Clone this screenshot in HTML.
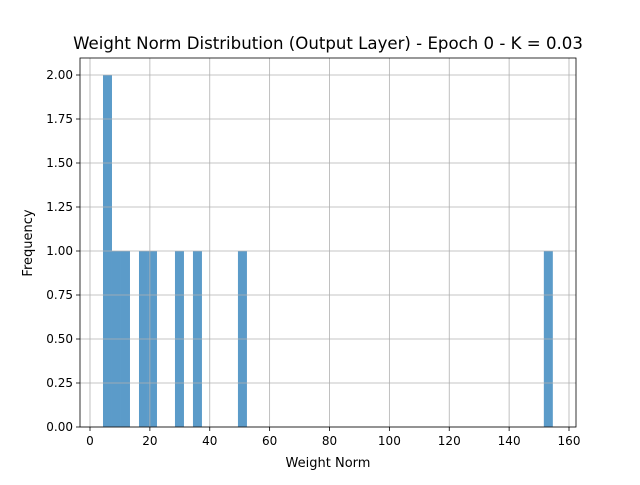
<!DOCTYPE html>
<html><head><meta charset="utf-8"><style>
body{margin:0;background:#fff;}
svg text{font-family:"DejaVu Sans","Liberation Sans",sans-serif;}
</style></head><body>
<svg id="chart" width="640" height="480" xmlns="http://www.w3.org/2000/svg">
<rect width="640" height="480" fill="#fff"/>
<g id="bars"></g><g id="grid"></g><g id="axes"></g>
<text x="328" y="49" font-size="16.6" text-anchor="middle">Weight Norm Distribution (Output Layer) - Epoch 0 - K = 0.03</text>
<text x="328" y="467" font-size="13" text-anchor="middle">Weight Norm</text>
<text transform="translate(32,243) rotate(-90)" font-size="13" text-anchor="middle">Frequency</text>
</svg>
<script>
const binMin = 4.34;
const binMax = 154.6;
const binCounts = [2,1,1,0,1,1,0,0,1,0,1,0,0,0,0,1,0,0,0,0,0,0,0,0,0,0,0,0,0,0,0,0,0,0,0,0,0,0,0,0,0,0,0,0,0,0,0,0,0,1];
const xTicks = [0,20,40,60,80,100,120,140,160];
const yTicks = [0,0.25,0.5,0.75,1.0,1.25,1.5,1.75,2.0];
const yTickLabels = ["0.00","0.25","0.50","0.75","1.00","1.25","1.50","1.75","2.00"];
const NS="http://www.w3.org/2000/svg";
const L=80,R=576,T=58,B=427;
const sx=v=>90+(v-0)*(569-90)/160;
const sy=v=>427-v*(427-75)/2;
function mk(tag,attrs,parent){const e=document.createElementNS(NS,tag);for(const k in attrs)e.setAttribute(k,attrs[k]);parent.appendChild(e);return e;}
const grid=document.getElementById('grid'),bars=document.getElementById('bars'),axes=document.getElementById('axes');
xTicks.forEach(t=>{
  const g=mk('line',{x1:sx(t),x2:sx(t),y1:T,y2:B,stroke:'#b0b0b0','stroke-width':0.8},grid);
  
  
  const tk=mk('line',{x1:sx(t),x2:sx(t),y1:B,y2:B+4,stroke:'#000','stroke-width':0.8},axes);
  
  
  const tx=mk('text',{x:sx(t),y:B+18,'font-size':12,'text-anchor':'middle'},axes);
  tx.textContent=t;
  
  
});
yTicks.forEach((t,i)=>{
  const g=mk('line',{x1:L,x2:R,y1:sy(t),y2:sy(t),stroke:'#b0b0b0','stroke-width':0.8},grid);
  
  
  const tk=mk('line',{x1:L-4,x2:L,y1:sy(t),y2:sy(t),stroke:'#000','stroke-width':0.8},axes);
  
  
  const tx=mk('text',{x:L-7,y:sy(t)+4,'font-size':12,'text-anchor':'end'},axes);
  tx.textContent=yTickLabels[i];
  
  
});
const w=(binMax-binMin)/binCounts.length;
binCounts.forEach((c,i)=>{
  if(!c)return;
  const x0=sx(binMin+i*w),x1=sx(binMin+(i+1)*w);
  const r=mk('rect',{x:x0,y:sy(c),width:x1-x0,height:sy(0)-sy(c),fill:'#5b9bc9'},bars);
  
  
});
const f=mk('rect',{x:L,y:T,width:R-L,height:B-T,fill:'none',stroke:'#000','stroke-width':0.8},axes);


</script>
</body></html>
